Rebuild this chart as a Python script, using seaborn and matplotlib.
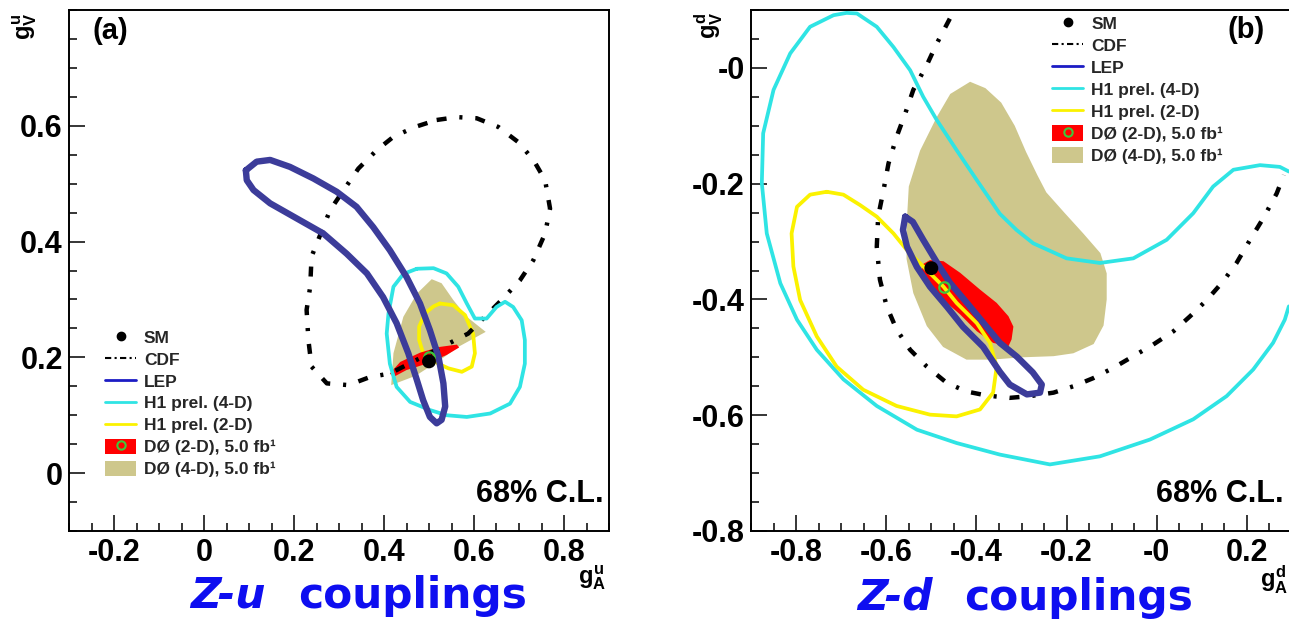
import matplotlib
matplotlib.use("Agg")
import numpy as np
import pandas as pd
import matplotlib.pyplot as plt
from matplotlib.lines import Line2D
from matplotlib.patches import Patch
from matplotlib.legend_handler import HandlerTuple
from matplotlib.ticker import MultipleLocator
import seaborn as sns

# ---------------------------------------------------------------------------
# 68% C.L. contours in the (g_A, g_V) plane
# ---------------------------------------------------------------------------
# ---- Z-u couplings ----
u_cdf_ga = [0.517, 0.562, 0.606, 0.654, 0.698, 0.732, 0.758, 0.769, 0.758, 0.732,
            0.702, 0.665, 0.587, 0.413, 0.369, 0.321, 0.273, 0.239, 0.232, 0.228,
            0.236, 0.239, 0.280, 0.313, 0.343, 0.384, 0.421, 0.469]
u_cdf_gv = [0.610, 0.615, 0.613, 0.598, 0.572, 0.541, 0.506, 0.457, 0.414, 0.368,
            0.333, 0.302, 0.241, 0.172, 0.166, 0.152, 0.155, 0.184, 0.230, 0.282,
            0.322, 0.374, 0.454, 0.492, 0.526, 0.558, 0.581, 0.598]

u_lep_ga = [0.093, 0.117, 0.147, 0.191, 0.243, 0.295, 0.339, 0.376, 0.413, 0.450,
            0.480, 0.502, 0.521, 0.532, 0.536, 0.528, 0.517, 0.502, 0.487, 0.473,
            0.454, 0.428, 0.398, 0.362, 0.317, 0.265, 0.206, 0.147, 0.110, 0.095]
u_lep_gv = [0.523, 0.538, 0.541, 0.529, 0.509, 0.486, 0.460, 0.425, 0.385, 0.339,
            0.293, 0.247, 0.201, 0.155, 0.115, 0.092, 0.086, 0.097, 0.126, 0.161,
            0.207, 0.259, 0.304, 0.345, 0.379, 0.414, 0.440, 0.466, 0.489, 0.506]

u_h1_4d_ga = [0.473, 0.510, 0.539, 0.565, 0.584, 0.602, 0.628, 0.650, 0.669, 0.687,
              0.706, 0.713, 0.713, 0.702, 0.680, 0.636, 0.584, 0.539, 0.502, 0.458,
              0.428, 0.413, 0.406, 0.410, 0.421, 0.443]
u_h1_4d_gv = [0.353, 0.354, 0.345, 0.322, 0.293, 0.267, 0.267, 0.287, 0.296, 0.287,
              0.264, 0.230, 0.189, 0.149, 0.120, 0.103, 0.097, 0.100, 0.109, 0.123,
              0.149, 0.189, 0.241, 0.276, 0.322, 0.344]

u_h1_2d_ga = [0.524, 0.554, 0.580, 0.598, 0.602, 0.595, 0.573, 0.543, 0.521, 0.487,
              0.478, 0.478, 0.491, 0.510]
u_h1_2d_gv = [0.293, 0.290, 0.273, 0.241, 0.207, 0.184, 0.175, 0.181, 0.189, 0.207,
              0.230, 0.253, 0.276, 0.288]

u_d0_4d_ga = [0.506, 0.528, 0.554, 0.584, 0.626, 0.565, 0.524, 0.470, 0.416, 0.421,
              0.443, 0.473]
u_d0_4d_gv = [0.335, 0.328, 0.299, 0.270, 0.244, 0.218, 0.195, 0.168, 0.152, 0.207,
              0.270, 0.310]

u_d0_2d_ga = [0.413, 0.436, 0.480, 0.524, 0.562, 0.567, 0.539, 0.495, 0.450, 0.421]
u_d0_2d_gv = [0.172, 0.192, 0.208, 0.218, 0.222, 0.217, 0.204, 0.189, 0.178, 0.166]

u_sm = (0.500, 0.193)
u_d0_fit = (0.500, 0.200)

# ---- Z-d couplings ----
d_cdf_ga = [-0.459, -0.488, -0.510, -0.540, -0.558, -0.577, -0.595, -0.606, -0.618, -0.621,
            -0.614, -0.599, -0.577, -0.547, -0.510, -0.466, -0.422, -0.377, -0.326, -0.281,
            -0.229, -0.185, -0.141, -0.096, -0.052, -0.008, 0.037, 0.074, 0.111, 0.147,
            0.177, 0.207, 0.236, 0.266, 0.282]
d_cdf_gv = [0.085, 0.042, 0.005, -0.038, -0.079, -0.119, -0.165, -0.211, -0.257, -0.309,
            -0.366, -0.412, -0.452, -0.487, -0.516, -0.544, -0.559, -0.566, -0.570, -0.567,
            -0.561, -0.550, -0.536, -0.518, -0.498, -0.478, -0.455, -0.429, -0.401, -0.369,
            -0.337, -0.297, -0.260, -0.217, -0.185]

d_lep_ga = [-0.558, -0.541, -0.518, -0.487, -0.459, -0.421, -0.385, -0.348, -0.310, -0.275,
            -0.255, -0.259, -0.288, -0.326, -0.348, -0.385, -0.430, -0.465, -0.503, -0.532,
            -0.554, -0.563]
d_lep_gv = [-0.257, -0.266, -0.297, -0.337, -0.371, -0.406, -0.440, -0.475, -0.499, -0.526,
            -0.547, -0.561, -0.564, -0.547, -0.525, -0.482, -0.447, -0.413, -0.378, -0.344,
            -0.309, -0.280]

d_h1_4d_ga = [0.293, 0.273, 0.229, 0.170, 0.125, 0.081, 0.022, -0.052, -0.126, -0.200,
              -0.274, -0.311, -0.348, -0.399, -0.444, -0.488, -0.518, -0.547, -0.584, -0.621,
              -0.665, -0.688, -0.717, -0.769, -0.813, -0.850, -0.873, -0.876, -0.865, -0.835,
              -0.798, -0.754, -0.695, -0.621, -0.532, -0.444, -0.348, -0.237, -0.126, -0.015,
              0.081, 0.155, 0.214, 0.258, 0.284, 0.293]
d_h1_4d_gv = [-0.179, -0.171, -0.168, -0.176, -0.205, -0.251, -0.297, -0.329, -0.337, -0.329,
              -0.303, -0.280, -0.252, -0.194, -0.142, -0.090, -0.050, -0.004, 0.036, 0.071,
              0.094, 0.095, 0.091, 0.071, 0.025, -0.038, -0.113, -0.199, -0.286, -0.372,
              -0.435, -0.487, -0.538, -0.584, -0.625, -0.648, -0.668, -0.685, -0.671, -0.642,
              -0.607, -0.567, -0.521, -0.475, -0.435, -0.412]

d_h1_2d_ga = [-0.732, -0.695, -0.658, -0.621, -0.584, -0.555, -0.518, -0.473, -0.444, -0.399,
              -0.370, -0.355, -0.363, -0.392, -0.444, -0.503, -0.577, -0.651, -0.710, -0.754,
              -0.791, -0.806, -0.810, -0.798, -0.769]
d_h1_2d_gv = [-0.214, -0.219, -0.237, -0.257, -0.286, -0.314, -0.343, -0.378, -0.406, -0.441,
              -0.475, -0.516, -0.561, -0.590, -0.602, -0.599, -0.584, -0.556, -0.516, -0.464,
              -0.401, -0.343, -0.286, -0.240, -0.219]

d_d0_4d_ga = [-0.414, -0.380, -0.345, -0.315, -0.290, -0.265, -0.245, -0.205, -0.163, -0.125,
              -0.111, -0.111, -0.118, -0.140, -0.185, -0.229, -0.300, -0.366, -0.422, -0.474,
              -0.510, -0.540, -0.555, -0.555, -0.550, -0.525, -0.488, -0.458]
d_d0_4d_gv = [-0.024, -0.035, -0.060, -0.100, -0.145, -0.185, -0.215, -0.250, -0.286, -0.320,
              -0.355, -0.400, -0.445, -0.477, -0.493, -0.498, -0.500, -0.504, -0.504, -0.482,
              -0.446, -0.389, -0.330, -0.274, -0.205, -0.143, -0.085, -0.045]

d_d0_2d_ga = [-0.521, -0.503, -0.473, -0.436, -0.392, -0.355, -0.329, -0.318, -0.322, -0.329,
              -0.363, -0.399, -0.436, -0.473, -0.503, -0.521]
d_d0_2d_gv = [-0.340, -0.332, -0.334, -0.354, -0.383, -0.406, -0.429, -0.447, -0.469, -0.481,
              -0.475, -0.455, -0.426, -0.401, -0.383, -0.363]

d_sm = (-0.500, -0.346)
d_d0_fit = (-0.473, -0.378)

# axis ticks
u_xticks = [-0.2, 0.0, 0.2, 0.4, 0.6, 0.8]
u_xticklabels = ["-0.2", "0", "0.2", "0.4", "0.6", "0.8"]
u_yticks = [0.0, 0.2, 0.4, 0.6]
u_yticklabels = ["0", "0.2", "0.4", "0.6"]
d_xticks = [-0.8, -0.6, -0.4, -0.2, 0.0, 0.2]
d_xticklabels = ["-0.8", "-0.6", "-0.4", "-0.2", "-0", "0.2"]
d_yticks = [-0.8, -0.6, -0.4, -0.2, 0.0]
d_yticklabels = ["-0.8", "-0.6", "-0.4", "-0.2", "-0"]

key_labels = ["SM", "CDF", "LEP", "H1 prel. (4-D)", "H1 prel. (2-D)",
              "DØ (2-D), 5.0 fb¹", "DØ (4-D), 5.0 fb¹"]

# ---------------------------------------------------------------------------
# style
# ---------------------------------------------------------------------------
C_TAN = "#cec78c"
C_RED = "#ff0000"
C_CYAN = "#2fe4e4"
C_YELLOW = "#fbf200"
C_LEP = "#3c3c9a"
C_LEP_KEY = "#1c1cc4"
C_GREEN = "#3cc83c"
C_BLUE = "#0e0ef0"
CDF_DASH = (0, (2.25, 2.9, 0.7, 2.9))

sns.set_theme(style="white")
plt.rcParams.update({
    "font.family": ["Liberation Sans", "DejaVu Sans"],
    "font.weight": "bold",
    "mathtext.fontset": "custom",
    "mathtext.rm": "Liberation Sans:bold",
    "mathtext.bf": "Liberation Sans:bold",
    "mathtext.it": "Liberation Sans:bold",
    "axes.linewidth": 1.4,
    "axes.edgecolor": "black",
    "lines.scale_dashes": True,
})

W, H = 1289, 623
fig = plt.figure(figsize=(W / 100, H / 100), dpi=100)
fig.patch.set_facecolor("white")


def fx(px):
    return px / W


def fy(py):
    return 1 - py / H


ax_u = fig.add_axes([fx(69), fy(531), 540 / W, 521 / H])
ax_d = fig.add_axes([fx(751), fy(531), 541 / W, 521 / H])


def contour(ax, ga, gv, color, lw, z, closed=True, **kw):
    ga, gv = list(ga), list(gv)
    if closed:
        ga.append(ga[0])
        gv.append(gv[0])
    df = pd.DataFrame({"ga": ga, "gv": gv})
    sns.lineplot(data=df, x="ga", y="gv", sort=False, estimator=None, color=color,
                 linewidth=lw, zorder=z, legend=False, ax=ax,
                 solid_joinstyle="round", solid_capstyle="round", **kw)


def region(ax, ga, gv, color, z):
    ax.fill(ga, gv, color=color, lw=0, zorder=z)


def points(ax, sm, fit):
    ax.plot([fit[0]], [fit[1]], ls="none", marker="o", mfc="none", mec=C_GREEN,
            mew=1.6, ms=7.5, zorder=7)
    sns.scatterplot(x=[sm[0]], y=[sm[1]], color="black", s=100, edgecolor="none",
                    zorder=8, ax=ax, legend=False)


# ---- Z-u panel ----
region(ax_u, u_d0_4d_ga, u_d0_4d_gv, C_TAN, 1)
contour(ax_u, u_h1_2d_ga, u_h1_2d_gv, C_YELLOW, 2.7, 2)
region(ax_u, u_d0_2d_ga, u_d0_2d_gv, C_RED, 3)
contour(ax_u, u_cdf_ga, u_cdf_gv, "black", 3.2, 4, linestyle=CDF_DASH, dash_capstyle="butt")
contour(ax_u, u_h1_4d_ga, u_h1_4d_gv, C_CYAN, 2.7, 5)
contour(ax_u, u_lep_ga, u_lep_gv, C_LEP, 4.6, 6)
points(ax_u, u_sm, u_d0_fit)

# ---- Z-d panel ----
region(ax_d, d_d0_4d_ga, d_d0_4d_gv, C_TAN, 1)
region(ax_d, d_d0_2d_ga, d_d0_2d_gv, C_RED, 2)
contour(ax_d, d_cdf_ga, d_cdf_gv, "black", 3.2, 3, closed=False,
        linestyle=CDF_DASH, dash_capstyle="butt")
contour(ax_d, d_h1_4d_ga, d_h1_4d_gv, C_CYAN, 2.7, 4, closed=False)
contour(ax_d, d_h1_2d_ga, d_h1_2d_gv, C_YELLOW, 2.7, 5)
contour(ax_d, d_lep_ga, d_lep_gv, C_LEP, 4.6, 6)
points(ax_d, d_sm, d_d0_fit)


def style_axes(ax, xlim, ylim, xt, xtl, yt, ytl):
    ax.set_xlim(*xlim)
    ax.set_ylim(*ylim)
    ax.set_xticks(xt, labels=xtl)
    ax.set_yticks(yt, labels=ytl)
    ax.xaxis.set_minor_locator(MultipleLocator(0.05))
    ax.yaxis.set_minor_locator(MultipleLocator(0.05))
    ax.set_xlabel("")
    ax.set_ylabel("")
    ax.set_facecolor("white")
    ax.tick_params(which="both", direction="in", top=False, right=False,
                   bottom=True, left=True, width=1.1, color="black")
    ax.tick_params(which="major", length=11.5, labelsize=22, labelcolor="black")
    ax.tick_params(which="minor", length=6)
    ax.tick_params(axis="x", which="major", pad=5)
    ax.tick_params(axis="y", which="major", pad=4.5)
    for lab in ax.get_xticklabels() + ax.get_yticklabels():
        lab.set_fontweight("bold")
    for s in ax.spines.values():
        s.set_linewidth(1.4)
        s.set_color("black")


style_axes(ax_u, (-0.3, 0.9), (-0.1, 0.8), u_xticks, u_xticklabels, u_yticks, u_yticklabels)
style_axes(ax_d, (-0.9, 0.3), (-0.8, 0.1), d_xticks, d_xticklabels, d_yticks, d_yticklabels)


# ---- keys ----
def add_key(ax, x_px, top_px):
    handles = [
        Line2D([], [], ls="none", marker="o", color="black", ms=6),
        Line2D([], [], color="black", lw=1.5, ls=(0, (3, 1.6, 1, 1.6))),
        Line2D([], [], color=C_LEP_KEY, lw=2),
        Line2D([], [], color=C_CYAN, lw=2),
        Line2D([], [], color=C_YELLOW, lw=2),
        (Patch(color=C_RED, lw=0),
         Line2D([], [], ls="none", marker="o", mfc="none", mec=C_GREEN, mew=1.5, ms=6)),
        Patch(color=C_TAN, lw=0),
    ]
    leg = ax.legend(handles, key_labels, loc="upper left",
                    bbox_to_anchor=(fx(x_px), fy(top_px)), bbox_transform=fig.transFigure,
                    frameon=False, borderpad=0, borderaxespad=0, handlelength=1.8,
                    handleheight=1.0, handletextpad=0.45, labelspacing=0.3,
                    prop={"family": "Liberation Sans", "weight": "bold", "size": 12.5},
                    handler_map={tuple: HandlerTuple(ndivide=1, pad=0)})
    leg.set_zorder(10)


add_key(ax_u, 105, 329)
add_key(ax_d, 1052, 15.5)

# ---- panel annotations ----
txt = dict(fontweight="bold", color="black")
fig.text(fx(110), fy(31), "(a)", fontsize=21, ha="center", va="center", **txt)
fig.text(fx(1246), fy(30), "(b)", fontsize=21, ha="center", va="center", **txt)
fig.text(fx(604), fy(494), "68% C.L.", fontsize=22, ha="right", va="center", **txt)
fig.text(fx(1284), fy(494), "68% C.L.", fontsize=22, ha="right", va="center", **txt)

fig.text(fx(25), fy(26), r"$g^{u}_{V}$", fontsize=17, rotation=90, ha="center", va="center", **txt)
fig.text(fx(709), fy(25), r"$g^{d}_{V}$", fontsize=17, rotation=90, ha="center", va="center", **txt)
fig.text(fx(592), fy(578), r"$g^{u}_{A}$", fontsize=17, ha="center", va="center", **txt)
fig.text(fx(1274), fy(580), r"$g^{d}_{A}$", fontsize=17, ha="center", va="center", **txt)

# ---- captions ----
cap = dict(family="DejaVu Sans", fontweight="bold", fontsize=30.5, color=C_BLUE, va="baseline")
fig.text(fx(190), fy(608), "Z-u", ha="left", style="italic", **cap)
fig.text(fx(527), fy(608), "couplings", ha="right", **cap)
fig.text(fx(857), fy(610), "Z-d", ha="left", style="italic", **cap)
fig.text(fx(1193), fy(610), "couplings", ha="right", **cap)

fig.savefig("out.png", dpi=100, facecolor="white")
